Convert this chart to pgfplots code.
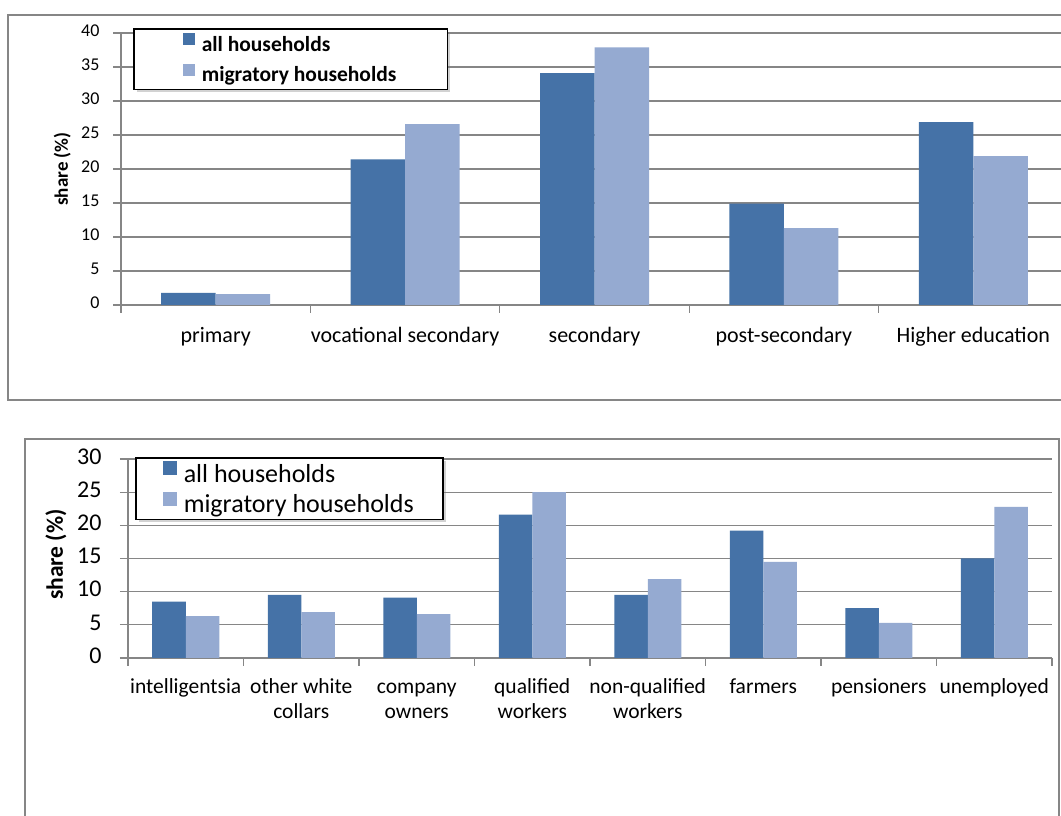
\documentclass[border=0pt]{standalone}
\usepackage{pgfplots}
\pgfplotsset{compat=1.18}
\usepackage{fontspec}
\setmainfont{Carlito}
\usetikzlibrary{shadows}
\makeatletter
\tikzset{no preaction/.code={\let\tikz@preactions\pgfutil@empty}}
\makeatother
\definecolor{darkbar}{HTML}{4572A7}
\definecolor{lightbar}{HTML}{95AAD1}
\definecolor{gridgray}{HTML}{868686}
\begin{document}
\begin{tikzpicture}[x=1pt,y=1pt]
\useasboundingbox (0,0) rectangle (1061,816);
\begin{scope}
\clip (0,0) rectangle (1061,816);
\fill[white] (0,0) rectangle (1061,816);
\draw[gridgray, line width=2pt] (8,801) rectangle (1075,416);
\draw[gridgray, line width=2pt] (25,377) rectangle (1059,-20);

\pgfplotsset{
  common/.style={
    scale only axis,
    /pgf/number format/assume math mode=true,
    ybar=0pt,
    enlarge x limits=false,
    axis x line*=bottom, axis y line*=left,
    axis line style={gridgray, line width=1.2pt, -},
    ymajorgrids, grid style={gridgray, line width=1.2pt},
    tick align=outside,
    major tick length=8pt, minor tick length=8pt,
    tick style={gridgray, line width=1.2pt},
    major x tick style={draw=none},
    legend cell align=left,
    typeset ticklabels with strut,
  }
}

% ---------- top panel ----------
\begin{axis}[common,
  at={(121pt,511pt)}, anchor=south west,
  width=947pt, height=272pt,
  bar width=54.5pt,
  xmin=-0.5, xmax=4.5, ymin=0, ymax=40,
  ytick={0,5,...,40},
  xtick={0,1,2,3,4},
  minor xtick={-0.5,0.5,1.5,2.5,3.5,4.5},
  xticklabels={primary, vocational secondary, secondary, post-secondary, Higher education},
  yticklabel style={font=\fontsize{18}{20}\selectfont, xshift=-10pt},
  xticklabel style={font=\fontsize{22}{25}\selectfont, yshift=-8pt},
  ylabel={share (\%)},
  ylabel style={font=\fontsize{19}{22}\bfseries, at={(rel axis cs:-0.062,0.5)}, anchor=center},
  legend image code/.code={\fill[#1, no preaction] (0pt,-0.5pt) rectangle (12pt,11.5pt);},
  legend style={at={(rel axis cs:0.0127,1.018)}, anchor=north west, draw=black, line width=1.5pt, fill=white,
    drop shadow={shadow xshift=3pt, shadow yshift=-3pt, opacity=0.35},
    font=\fontsize{21.5}{24}\bfseries, inner xsep=49pt, inner ysep=4pt, row sep=9pt,
    /tikz/every odd column/.append style={column sep=5pt}},
]
\addplot[fill=darkbar, draw=none] coordinates {(0,1.8) (1,21.4) (2,34.1) (3,14.9) (4,26.9)};
\addplot[fill=lightbar, draw=none] coordinates {(0,1.6) (1,26.6) (2,37.9) (3,11.3) (4,21.9)};
\addlegendentry{all households}
\addlegendentry{migratory households}
\end{axis}

% ---------- bottom panel ----------
\begin{axis}[common,
  at={(128pt,158pt)}, anchor=south west,
  width=924pt, height=199pt,
  bar width=33.5pt,
  xmin=-0.5, xmax=7.5, ymin=0, ymax=30,
  ytick={0,5,...,30},
  xtick={0,1,...,7},
  minor xtick={-0.5,0.5,...,7.5},
  xticklabels={intelligentsia, {other white\\collars}, {company\\owners}, {qualified\\workers}, {non-qualified\\workers}, farmers, pensioners, unemployed},
  yticklabel style={font=\fontsize{24}{26}\selectfont, xshift=-15pt},
  xticklabel style={font=\fontsize{21.5}{25}\selectfont, align=center, yshift=-6pt},
  ylabel={share (\%)},
  ylabel style={font=\fontsize{23.5}{26}\bfseries, at={(rel axis cs:-0.078,0.52)}, anchor=center},
  legend image code/.code={\fill[#1, no preaction] (0pt,-1pt) rectangle (14pt,13pt);},
  legend style={at={(rel axis cs:0.0076,1.01)}, anchor=north west, draw=black, line width=1.5pt, fill=white,
    drop shadow={shadow xshift=3pt, shadow yshift=-3pt, opacity=0.35},
    font=\fontsize{26}{28}\selectfont, inner xsep=27pt, inner ysep=3pt, row sep=6pt,
    /tikz/every odd column/.append style={column sep=5pt}},
]
\addplot[fill=darkbar, draw=none] coordinates {(0,8.5) (1,9.5) (2,9.1) (3,21.6) (4,9.5) (5,19.2) (6,7.5) (7,15.0)};
\addplot[fill=lightbar, draw=none] coordinates {(0,6.3) (1,6.9) (2,6.6) (3,25.0) (4,11.9) (5,14.5) (6,5.3) (7,22.8)};
\addlegendentry{all households}
\addlegendentry{migratory households}
\end{axis}
\end{scope}
\end{tikzpicture}
\end{document}
